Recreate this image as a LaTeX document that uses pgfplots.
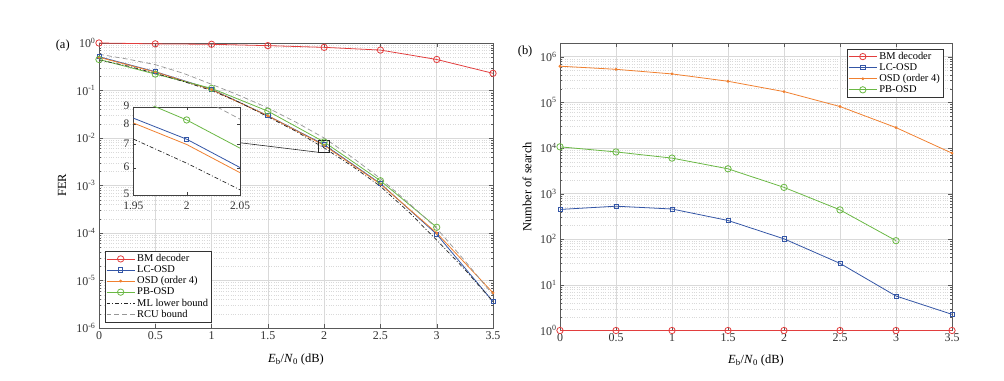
\documentclass[border=0pt]{standalone}
\usepackage{fontspec}
\setmainfont{Liberation Serif}
\usepackage{pgfplots}
\usepackage{pgfplotstable}
\pgfplotsset{compat=1.18}
\definecolor{cred}{RGB}{226,62,62}
\definecolor{cblue}{RGB}{52,86,166}
\definecolor{corange}{RGB}{240,128,48}
\definecolor{cgreen}{RGB}{106,184,68}
\definecolor{cgray}{RGB}{150,150,150}

% FER data (left)
\pgfplotstableread{
x   bm    lc       osd      pb
0   1.0   0.515    0.50     0.45
0.5 0.96  0.249    0.245    0.222
1   0.94  0.106    0.104    0.111
1.5 0.88  0.0295   0.0293   0.0368
2   0.81  7.25e-3  7.0e-3   8.24e-3
2.5 0.71  1.1e-3   1.07e-3  1.26e-3
3   0.45  9.4e-5   1.0e-4   1.32e-4
3.5 0.23  3.6e-6   5.5e-6   nan
}\fer
\pgfplotstableread{
x    ml       rcu
0    0.44     0.58
0.25 0.33     0.46
0.5  0.23     0.35
0.75 0.155    0.23
1    0.10     0.135
1.25 0.056    0.078
1.5  0.028    0.043
1.75 0.0138   0.0215
2    6.18e-3  1.0e-2
2.25 2.55e-3  3.9e-3
2.5  9.6e-4   1.4e-3
2.75 2.8e-4   4.3e-4
3    7.1e-5   1.25e-4
3.25 1.7e-5   2.6e-5
3.5  3.6e-6   5.0e-6
}\bounds
% Number of search (right)
\pgfplotstableread{
x   bm  lc    osd     pb
0   1   450   6.2e5   1.06e4
0.5 1   530   5.3e5   8.2e3
1   1   460   4.2e5   6.0e3
1.5 1   258   2.9e5   3.5e3
2   1   102   1.72e5  1.37e3
2.5 1   29.6  8.1e4   440
3   1   5.7   2.8e4   93
3.5 1   2.26  7.7e3   nan
}\search

\pgfplotsset{
  myaxis/.style={
    scale only axis,
    tick align=inside,
    axis line style={black!65},
    tick style={black!65},
    major tick length=4bp,
    minor tick length=2bp,
    xmajorgrids, ymajorgrids, yminorgrids,
    major grid style={gray!30, line width=0.5pt},
    minor grid style={gray!30, dotted},
    tick label style={font=\fontsize{12}{14}\selectfont, text=black!80},
    label style={font=\fontsize{12.5}{14}\selectfont},
    legend cell align=left,
    legend style={font=\fontsize{10.5}{12}\selectfont, draw=black!80, inner sep=1pt, row sep=-1.5pt, fill=white},
    legend image code/.code={\draw[mark repeat=2,mark phase=2,##1] plot coordinates {(0cm,0cm) (0.5cm,0cm) (1cm,0cm)};},
    xmin=0, xmax=3.5,
    xtick={0,0.5,1,1.5,2,2.5,3,3.5},
    xticklabels={0,0.5,1,1.5,2,2.5,3,3.5},
  },
  sbm/.style={cred, line width=0.8pt, mark=o, mark size=3.2pt, mark options={solid}},
  slc/.style={cblue, line width=0.8pt, mark=square, mark size=2.1pt, mark options={solid}},
  sosd/.style={corange, line width=0.8pt, mark=*, mark size=1pt, mark options={solid}},
  spb/.style={cgreen, line width=0.8pt, mark=o, mark size=3.2pt, mark options={solid}},
  sml/.style={black!85, line width=0.7pt, dash pattern=on 4pt off 2pt on 1pt off 2pt},
  srcu/.style={cgray, line width=0.7pt, dash pattern=on 5pt off 3pt},
}

\begin{document}
\begin{tikzpicture}
\path[use as bounding box] (0,0) rectangle (1004bp,381bp);

% ---------- (a) FER ----------
\begin{axis}[myaxis,
  at={(99bp,53bp)}, anchor=south west,
  width=394bp, height=285bp,
  ymode=log, ymin=1e-6, ymax=1,
  ytick={1e-6,1e-5,1e-4,1e-3,1e-2,1e-1,1},
  yticklabels={10\textsuperscript{-6},10\textsuperscript{-5},10\textsuperscript{-4},10\textsuperscript{-3},10\textsuperscript{-2},10\textsuperscript{-1},10\textsuperscript{0}},
  clip=false,
  xlabel={\textit{E}\textsubscript{b}/\textit{N}\textsubscript{0} (dB)},
  ylabel={FER},
  xlabel style={at={(axis description cs:0.5,-0.112)}, anchor=center},
  ylabel style={at={(axis description cs:-0.094,0.5)}, anchor=center},
  legend style={at={(0.015,0.021)}, anchor=south west},
]
\addplot[sbm] table[x=x,y=bm] {\fer};
\addlegendentry{BM decoder}
\addplot[slc] table[x=x,y=lc] {\fer};
\addlegendentry{LC-OSD}
\addplot[sosd] table[x=x,y=osd] {\fer};
\addlegendentry{OSD (order 4)}
\addplot[spb] table[x=x,y=pb] {\fer};
\addlegendentry{PB-OSD}
\addplot[sml] table[x=x,y=ml] {\bounds};
\addlegendentry{ML lower bound}
\addplot[srcu] table[x=x,y=rcu] {\bounds};
\addlegendentry{RCU bound}
\draw[black!85, line width=0.6pt] (axis cs:1.95,5e-3) rectangle (axis cs:2.05,9e-3);
\draw[black!85, line width=0.6pt] (axis cs:1.25,7.96e-3) -- (axis cs:1.95,5e-3);
\node[font=\fontsize{12.5}{14}\selectfont] at (axis description cs:-0.092,0.99) {(a)};
\end{axis}

% ---------- inset ----------
\begin{axis}[
  scale only axis,
  at={(133.3bp,186bp)}, anchor=south west,
  width=106.7bp, height=88.3bp,
  axis background/.style={fill=white},
  tick align=inside,
  axis line style={black!75},
  tick style={black!75},
  major tick length=3bp,
  tick label style={font=\fontsize{11.5}{13}\selectfont, text=black!80},
  xticklabel style={yshift=-3bp},
  yticklabel style={xshift=-0.5bp, yshift=1bp},
  xmin=1.95, xmax=2.05,
  xtick={1.95,2,2.05}, xticklabels={1.95,2,2.05},
  ymode=log, ymin=5e-3, ymax=9e-3,
  ytick={5e-3,6e-3,7e-3,8e-3,9e-3}, yticklabels={5,6,7,8,9},
  yminorticks=false,
  clip=true,
]
\addplot[slc] table[x=x,y=lc] {\fer};
\addplot[sosd, mark=none] table[x=x,y=osd] {\fer};
\addplot[spb] table[x=x,y=pb] {\fer};
\addplot[sml] table[x=x,y=ml] {\bounds};
\addplot[srcu] table[x=x,y=rcu] {\bounds};
\node[anchor=south west, inner sep=1pt, font=\fontsize{12}{14}\selectfont, text=black!80] at (rel axis cs:-0.02,0.99) {$\times$10\textsuperscript{-3}};
\end{axis}

% ---------- (b) Number of search ----------
\begin{axis}[myaxis,
  at={(560bp,50.5bp)}, anchor=south west,
  width=392bp, height=287.5bp,
  ymode=log, ymin=1, ymax=2e6,
  ytick={1,1e1,1e2,1e3,1e4,1e5,1e6},
  yticklabels={10\textsuperscript{0},10\textsuperscript{1},10\textsuperscript{2},10\textsuperscript{3},10\textsuperscript{4},10\textsuperscript{5},10\textsuperscript{6}},
  clip=false,
  xlabel={\textit{E}\textsubscript{b}/\textit{N}\textsubscript{0} (dB)},
  ylabel={Number of search},
  xlabel style={at={(axis description cs:0.5,-0.105)}, anchor=center},
  ylabel style={at={(axis description cs:-0.084,0.5)}, anchor=center},
  legend style={at={(0.977,0.979)}, anchor=north east},
]
\addplot[sbm] table[x=x,y=bm] {\search};
\addlegendentry{BM decoder}
\addplot[slc] table[x=x,y=lc] {\search};
\addlegendentry{LC-OSD}
\addplot[sosd] table[x=x,y=osd] {\search};
\addlegendentry{OSD (order 4)}
\addplot[spb] table[x=x,y=pb] {\search};
\addlegendentry{PB-OSD}
\node[font=\fontsize{12.5}{14}\selectfont] at (axis description cs:-0.089,0.97) {(b)};
\end{axis}
\end{tikzpicture}
\end{document}
